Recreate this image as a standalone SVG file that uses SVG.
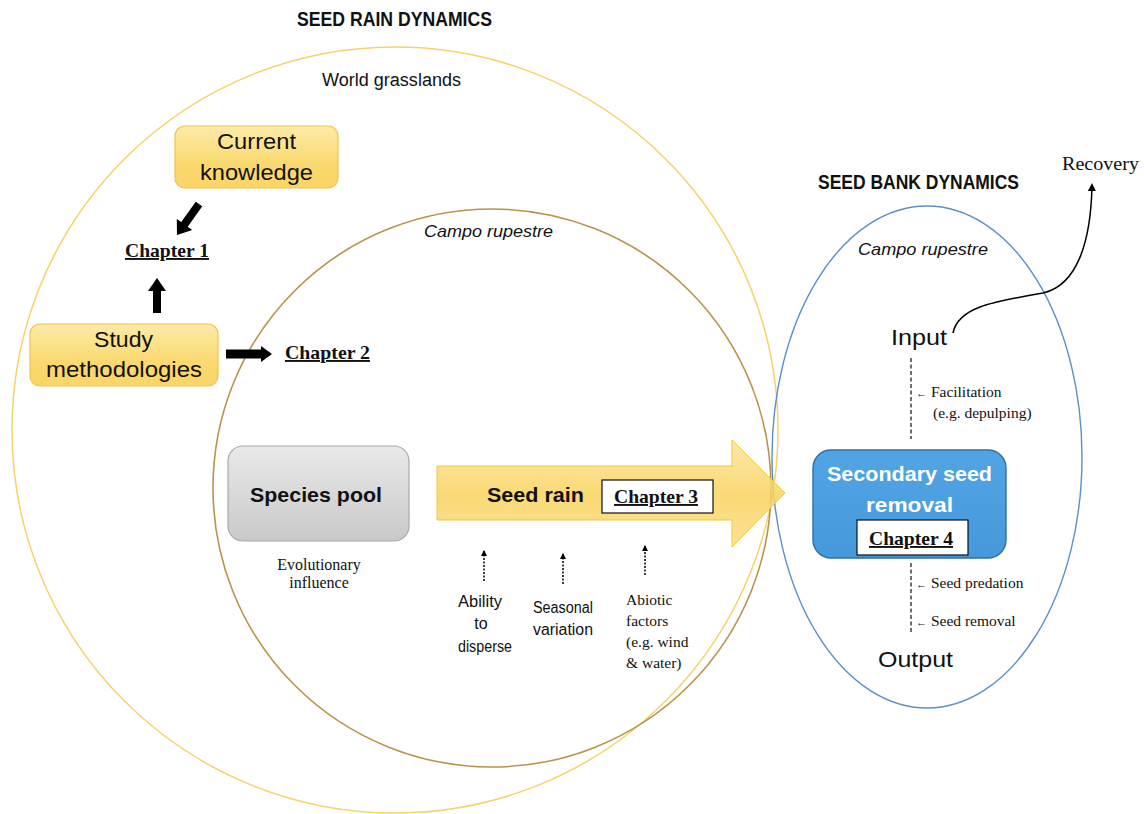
<svg xmlns="http://www.w3.org/2000/svg" width="1144" height="814" viewBox="0 0 1144 814">
<defs>
<linearGradient id="gYellow" x1="0" y1="0" x2="0" y2="1">
<stop offset="0" stop-color="#fdeba9"/>
<stop offset="0.6" stop-color="#fad970"/>
<stop offset="1" stop-color="#fad566"/>
</linearGradient>
<linearGradient id="gGray" x1="0" y1="0" x2="0" y2="1">
<stop offset="0" stop-color="#e9e9e9"/>
<stop offset="1" stop-color="#c9c9c9"/>
</linearGradient>
<linearGradient id="gArrow" x1="0" y1="0" x2="0" y2="1">
<stop offset="0" stop-color="#fce4a0"/>
<stop offset="0.5" stop-color="#f9d35e"/>
<stop offset="1" stop-color="#fbdc80"/>
</linearGradient>
<linearGradient id="gBlue" x1="0" y1="0" x2="0" y2="1">
<stop offset="0" stop-color="#52a5e4"/>
<stop offset="1" stop-color="#4599dc"/>
</linearGradient>
<marker id="mHead" markerWidth="8" markerHeight="8" refX="6" refY="4" orient="auto" markerUnits="userSpaceOnUse">
<path d="M0,0 L8,4 L0,8 Z" fill="#000"/>
</marker>
<marker id="mSmall" markerWidth="6" markerHeight="6" refX="5" refY="3" orient="auto" markerUnits="userSpaceOnUse">
<path d="M0,0 L6,3 L0,6 Z" fill="#000"/>
</marker>
</defs>
<style>
.sans{font-family:"Liberation Sans",Arial,sans-serif;fill:#111}
.serif{font-family:"Liberation Serif","Times New Roman",serif;fill:#111}
.title{font-family:"Liberation Sans",Arial,sans-serif;font-weight:bold;font-size:19.5px;fill:#111}
.box{font-family:"Liberation Sans",Arial,sans-serif;font-size:22px;fill:#111}
.bold{font-weight:bold}
.chap{font-family:"Liberation Serif","Times New Roman",serif;font-weight:bold;font-size:19px;text-decoration:underline;fill:#111}
.ital{font-style:italic}
.small{font-family:"Liberation Serif","Times New Roman",serif;font-size:15.5px;fill:#111}
.cond{font-family:"Liberation Sans",Arial,sans-serif;font-size:16px;fill:#111}
</style>
<rect width="1144" height="814" fill="#fff"/>

<g id="regions" fill="none">
<circle id="world-grasslands" cx="395" cy="430" r="383" stroke="#f3d36a" stroke-width="1.5"/>
<circle id="campo-rupestre-rain" cx="492" cy="488" r="279" stroke="#b8944a" stroke-width="1.6"/>
<ellipse id="campo-rupestre-bank" cx="927" cy="457" rx="155" ry="251" stroke="#5b8fc7" stroke-width="1.4"/>
</g>

<g id="labels">
<text class="title" x="297" y="26" textLength="195" lengthAdjust="spacingAndGlyphs">SEED RAIN DYNAMICS</text>
<text class="sans" x="322" y="86" font-size="18" textLength="139" lengthAdjust="spacingAndGlyphs">World grasslands</text>
<text class="sans ital" x="424" y="237" font-size="16.5" textLength="129" lengthAdjust="spacingAndGlyphs">Campo rupestre</text>
<text class="title" x="818" y="189" textLength="201" lengthAdjust="spacingAndGlyphs">SEED BANK DYNAMICS</text>
<text class="sans ital" x="858" y="255" font-size="16.5" textLength="130" lengthAdjust="spacingAndGlyphs">Campo rupestre</text>
<text class="serif" x="1062" y="170" font-size="19.5" textLength="77" lengthAdjust="spacingAndGlyphs">Recovery</text>
</g>

<g id="current-knowledge">
<rect x="175" y="126" width="163" height="62" rx="10" fill="url(#gYellow)" stroke="#f1c34c" stroke-width="1.2"/>
<text class="box" x="217" y="149" textLength="79" lengthAdjust="spacingAndGlyphs">Current</text>
<text class="box" x="200" y="180" textLength="113" lengthAdjust="spacingAndGlyphs">knowledge</text>
</g>

<g id="study-methodologies">
<rect x="30" y="324" width="188" height="62" rx="10" fill="url(#gYellow)" stroke="#f1c34c" stroke-width="1.2"/>
<text class="box" x="94" y="347" textLength="59" lengthAdjust="spacingAndGlyphs">Study</text>
<text class="box" x="46" y="377" textLength="156" lengthAdjust="spacingAndGlyphs">methodologies</text>
</g>

<g id="chapter-1"><text class="chap" x="125" y="257" textLength="84" lengthAdjust="spacingAndGlyphs">Chapter 1</text></g>
<g id="chapter-2"><text class="chap" x="285" y="359" textLength="85" lengthAdjust="spacingAndGlyphs">Chapter 2</text></g>

<g id="species-pool">
<rect x="228" y="446" width="181" height="95" rx="15" fill="url(#gGray)" stroke="#a9a9a9" stroke-width="1.2"/>
<text class="sans bold" x="250" y="502" font-size="21" textLength="132" lengthAdjust="spacingAndGlyphs">Species pool</text>
</g>
<g id="evolutionary-influence">
<text class="serif" x="319" y="570" font-size="16" text-anchor="middle">Evolutionary</text>
<text class="serif" x="319" y="588" font-size="16" text-anchor="middle">influence</text>
</g>

<g id="seed-rain">
<polygon points="437,466 732,466 732,440 785,493 732,547 732,520 437,520" fill="url(#gArrow)" fill-opacity="0.85" stroke="#f3c640" stroke-width="1"/>
<text class="sans bold" x="487" y="502" font-size="21" textLength="97" lengthAdjust="spacingAndGlyphs">Seed rain</text>
</g>
<g id="chapter-3">
<rect x="602" y="480" width="111" height="33" fill="#fff" stroke="#111" stroke-width="1.2"/>
<text class="chap" x="614" y="503" textLength="84" lengthAdjust="spacingAndGlyphs">Chapter 3</text>
</g>

<g id="ability-to-disperse">
<text class="cond" x="480" y="607" text-anchor="middle" textLength="44" lengthAdjust="spacingAndGlyphs">Ability</text>
<text class="cond" x="481" y="629" text-anchor="middle">to</text>
<text class="cond" x="485" y="652" text-anchor="middle" textLength="54" lengthAdjust="spacingAndGlyphs">disperse</text>
</g>
<g id="seasonal-variation">
<text class="cond" x="563" y="613" text-anchor="middle" textLength="60" lengthAdjust="spacingAndGlyphs">Seasonal</text>
<text class="cond" x="563" y="635" text-anchor="middle" textLength="60" lengthAdjust="spacingAndGlyphs">variation</text>
</g>
<g id="abiotic-factors">
<text class="small" x="626" y="605">Abiotic</text>
<text class="small" x="626" y="626">factors</text>
<text class="small" x="626" y="647">(e.g. wind</text>
<text class="small" x="626" y="668">&amp; water)</text>
</g>

<g id="input"><text class="box" x="891" y="345" font-size="23" textLength="56" lengthAdjust="spacingAndGlyphs">Input</text></g>
<g id="facilitation">
<text class="small" x="916" y="397"><tspan font-size="11">←</tspan> Facilitation</text>
<text class="small" x="933" y="418">(e.g. depulping)</text>
</g>

<g id="secondary-seed-removal">
<rect x="813" y="450" width="193" height="108" rx="18" fill="url(#gBlue)" stroke="#2f6ea8" stroke-width="1.4"/>
<text class="sans bold" x="827" y="481" font-size="21" fill="#fff" style="fill:#fff" textLength="165" lengthAdjust="spacingAndGlyphs">Secondary seed</text>
<text class="sans bold" x="866" y="512" font-size="21" style="fill:#fff" textLength="87" lengthAdjust="spacingAndGlyphs">removal</text>
</g>
<g id="chapter-4">
<rect x="857" y="520" width="111" height="35" fill="#fff" stroke="#111" stroke-width="1.2"/>
<text class="chap" x="869" y="545" textLength="84" lengthAdjust="spacingAndGlyphs">Chapter 4</text>
</g>

<g id="seed-predation">
<text class="small" x="916" y="588"><tspan font-size="11">←</tspan> Seed predation</text>
<text class="small" x="916" y="626"><tspan font-size="11">←</tspan> Seed removal</text>
</g>
<g id="output"><text class="box" x="878" y="667" font-size="23" textLength="75" lengthAdjust="spacingAndGlyphs">Output</text></g>

<g id="connectors">
<polygon points="0,-4 25,-4 25,-9.5 38,0 25,9.5 25,4 0,4" fill="#000" transform="translate(199,204) rotate(125.4)"/>
<polygon points="0,-4 22,-4 22,-9 35,0 22,9 22,4 0,4" fill="#000" transform="translate(157,313) rotate(-90)"/>
<polygon points="226,349.5 261,349.5 261,346 272,354 261,362 261,358.5 226,358.5" fill="#000"/>
<g stroke="#000" stroke-width="1.5" stroke-dasharray="2,1.5" fill="none">
<line x1="484" y1="581" x2="484" y2="551" marker-end="url(#mSmall)"/>
<line x1="563" y1="584" x2="563" y2="554" marker-end="url(#mSmall)"/>
<line x1="645" y1="575" x2="645" y2="546" marker-end="url(#mSmall)"/>
</g>
<g stroke="#333" stroke-width="1.4" stroke-dasharray="4,2.5" fill="none">
<line x1="911" y1="358" x2="911" y2="439"/>
<line x1="911" y1="563" x2="911" y2="632"/>
</g>
<path d="M953,333 C958,308 990,302 1043,293 C1078,285 1091,240 1092,185" fill="none" stroke="#000" stroke-width="1.5" marker-end="url(#mHead)"/>
</g>
</svg>
